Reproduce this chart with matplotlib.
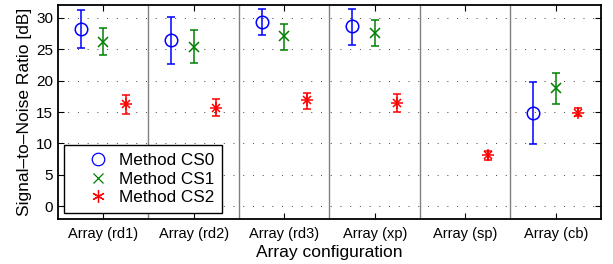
import numpy as np
import matplotlib.pyplot as plt
from matplotlib.lines import Line2D

plt.rcParams['font.family'] = ['Liberation Sans', 'DejaVu Sans']

configs = ['Array (rd1)', 'Array (rd2)', 'Array (rd3)', 'Array (xp)', 'Array (sp)', 'Array (cb)']
methods = ['Method CS0', 'Method CS1', 'Method CS2']

# mean SNR and error bar extents [dB], nan = no result
cs0_mean = [28.2, 26.4, 29.3, 28.6, np.nan, 14.9]
cs0_low = [25.1, 22.7, 27.2, 25.7, np.nan, 9.9]
cs0_high = [31.2, 30.1, 31.4, 31.4, np.nan, 19.8]

cs1_mean = [26.2, 25.4, 27.0, 27.6, np.nan, 18.8]
cs1_low = [24.0, 22.8, 24.9, 25.5, np.nan, 16.3]
cs1_high = [28.3, 28.0, 29.0, 29.6, np.nan, 21.2]

cs2_mean = [16.3, 15.7, 16.9, 16.4, 8.2, 14.9]
cs2_low = [14.7, 14.4, 15.5, 15.0, 7.3, 14.3]
cs2_high = [17.7, 17.0, 18.0, 17.8, 8.8, 15.6]

series = [
    (cs0_mean, cs0_low, cs0_high, 'o', (0, 0, 1), -0.25),
    (cs1_mean, cs1_low, cs1_high, 'x', (0, 0.5, 0), 0.0),
    (cs2_mean, cs2_low, cs2_high, '*', (1, 0, 0), 0.25),
]

fig = plt.figure(figsize=(6.13, 2.64), dpi=100)
ax = fig.add_axes([0.0946, 0.1705, 0.8858, 0.8105])

x = np.arange(len(configs))
handles = []
for (m, lo, hi, mk, col, off), name in zip(series, methods):
    m = np.array(m)
    err = [m - np.array(lo), np.array(hi) - m]
    if mk == '*':
        ax.errorbar(x + off, m, yerr=err, fmt='none', ecolor=col, elinewidth=1.1, capsize=3, capthick=1.1)
        ax.plot(x + off, m, linestyle='none', marker='+', color=col, markersize=8, markeredgewidth=1.1)
        ax.plot(x + off, m, linestyle='none', marker='x', color=col, markersize=6, markeredgewidth=1.1)
        h = Line2D([], [], linestyle='none', marker=(6, 2, 0), color=col, markersize=9, markeredgewidth=0.9)
    else:
        ax.errorbar(x + off, m, yerr=err, fmt=mk, color=col, ecolor=col, elinewidth=1.1, capsize=3, capthick=1.1,
                    markersize=9 if mk == 'o' else 7, markerfacecolor='none', markeredgewidth=1.1)
        h = Line2D([], [], linestyle='none', marker=mk, color=col, markerfacecolor='none',
                   markersize=9 if mk == 'o' else 6.5, markeredgewidth=0.9)
    handles.append(h)

# group separators
for b in np.arange(0.5, len(configs) - 0.5, 1):
    ax.axvline(b, color='0.5', linewidth=1.0, zorder=0)

ax.set_xlim(-0.5, len(configs) - 0.5)
ax.set_ylim(-2, 32)
ax.set_xticks(x)
ax.set_xticklabels(configs, fontsize=10.5)
ax.set_yticks(np.arange(0, 31, 5))
ax.tick_params(axis='y', labelsize=11)
ax.tick_params(direction='in', top=True, right=True, length=4, width=0.8)
ax.tick_params(axis='x', pad=6)
ax.yaxis.grid(True, linestyle=(0, (1, 9)), color='0.25', linewidth=0.7)
ax.set_axisbelow(True)
for s in ax.spines.values():
    s.set_linewidth(1.3)

ax.set_xlabel('Array configuration', fontsize=12.5, labelpad=3)
ax.set_ylabel('Signal–to–Noise Ratio [dB]', fontsize=12.5, labelpad=3)

leg = ax.legend(handles, methods, loc='lower left', bbox_to_anchor=(0.011, 0.028), fontsize=12.3,
                fancybox=False, framealpha=1, edgecolor='black', handlelength=3.1, handletextpad=-0.3,
                borderpad=0.45, labelspacing=0.22, borderaxespad=0)
leg.get_frame().set_linewidth(1.0)

fig.savefig('out.png', dpi=100)
